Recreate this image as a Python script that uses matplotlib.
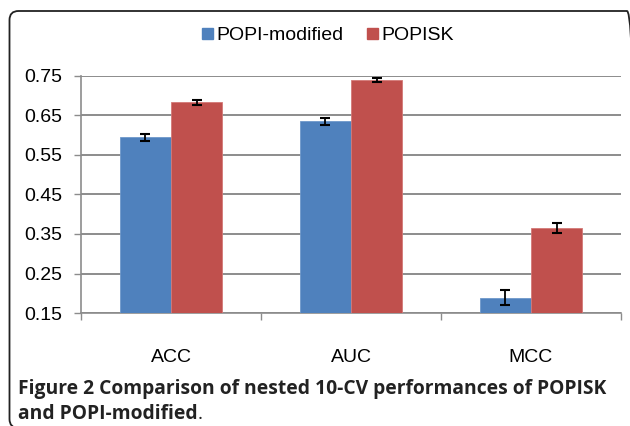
import matplotlib
matplotlib.use("Agg")
import matplotlib.pyplot as plt
from matplotlib.patches import FancyBboxPatch, Patch
import numpy as np

categories = ["ACC", "AUC", "MCC"]
series_names = ["POPI-modified", "POPISK"]
popi_modified = [0.595, 0.635, 0.188]
popi_modified_err = [0.009, 0.009, 0.019]
popisk = [0.683, 0.740, 0.365]
popisk_err = [0.006, 0.004, 0.013]
yticks = [0.15, 0.25, 0.35, 0.45, 0.55, 0.65, 0.75]
caption_lines = ["Figure 2 Comparison of nested 10-CV performances of POPISK",
                 "and POPI-modified"]

blue = "#4F81BD"
red = "#C0504D"
grid_col = "#8C8C8C"

W, H = 630, 426
fig = plt.figure(figsize=(W / 100, H / 100), dpi=100)
fig.patch.set_facecolor("white")

# rounded border (in inches)
border = FancyBboxPatch((9.5 / 100, -2 / 100), (636 - 9.5) / 100, (428 - 11) / 100,
                        boxstyle="round,pad=0,rounding_size=0.09",
                        transform=fig.dpi_scale_trans, fill=False,
                        edgecolor="#222222", linewidth=1.3, clip_on=False)
fig.patches.append(border)

ax = fig.add_axes([81 / W, 1 - 313 / H, (621 - 81) / W, (313 - 76) / H])
x = np.arange(len(categories))
bw = 0.284
ax.bar(x - bw / 2, popi_modified, bw, color=blue, edgecolor="#6E98CB", linewidth=0.6,
       zorder=3)
ax.bar(x + bw / 2, popisk, bw, color=red, edgecolor="#D47977", linewidth=0.6,
       zorder=3)
ax.errorbar(x - bw / 2, popi_modified, yerr=popi_modified_err, fmt="none",
            ecolor="black", elinewidth=1.3, capsize=3.5, capthick=1.5, zorder=4)
ax.errorbar(x + bw / 2, popisk, yerr=popisk_err, fmt="none",
            ecolor="black", elinewidth=1.3, capsize=3.5, capthick=1.5, zorder=4)

ax.set_ylim(0.15, 0.75)
ax.set_xlim(-0.5, len(categories) - 0.5)
ax.set_yticks(yticks)
ax.set_yticklabels([f"{v:.2f}" for v in yticks], family="Liberation Sans")
ax.yaxis.grid(True, color=grid_col, linewidth=1.4, zorder=0)
ax.set_axisbelow(True)

ax.set_xticks(x)
ax.set_xticklabels(categories, family="Liberation Sans")
ax.set_xticks(np.arange(-0.5, len(categories)), minor=True)
ax.tick_params(axis="x", which="major", length=0, pad=26, labelsize=14)
ax.tick_params(axis="x", which="minor", length=5, width=1.0, color=grid_col,
               direction="out")
ax.tick_params(axis="y", length=5, width=1.0, color=grid_col, labelsize=14,
               pad=8.5)
for s in ["top", "right"]:
    ax.spines[s].set_visible(False)
for s in ["left", "bottom"]:
    ax.spines[s].set_color(grid_col)
    ax.spines[s].set_linewidth(1.2)

handles = [Patch(facecolor=blue, edgecolor=blue), Patch(facecolor=red, edgecolor=red)]
fig.legend(handles, series_names, loc="center", bbox_to_anchor=(328 / W, 1 - 36 / H),
           ncol=2, frameon=False, prop={"family": "Liberation Sans", "size": 14},
           handlelength=0.55, handleheight=0.55, handletextpad=0.2,
           columnspacing=1.2)

fs = 13.9
fig.text(18 / W, 1 - 389 / H, caption_lines[0], ha="left", va="center",
         fontsize=fs, fontweight="bold", family="Open Sans", color="#222222")
t2 = fig.text(18 / W, 1 - 414 / H, caption_lines[1], ha="left", va="center",
              fontsize=fs, fontweight="bold", family="Open Sans", color="#222222")
fig.canvas.draw()
bb = t2.get_window_extent()
fig.text(bb.x1 / W, 1 - 414 / H, ".", ha="left", va="center", fontsize=fs,
         family="Open Sans", color="#222222")

fig.savefig("out.png", dpi=100)
